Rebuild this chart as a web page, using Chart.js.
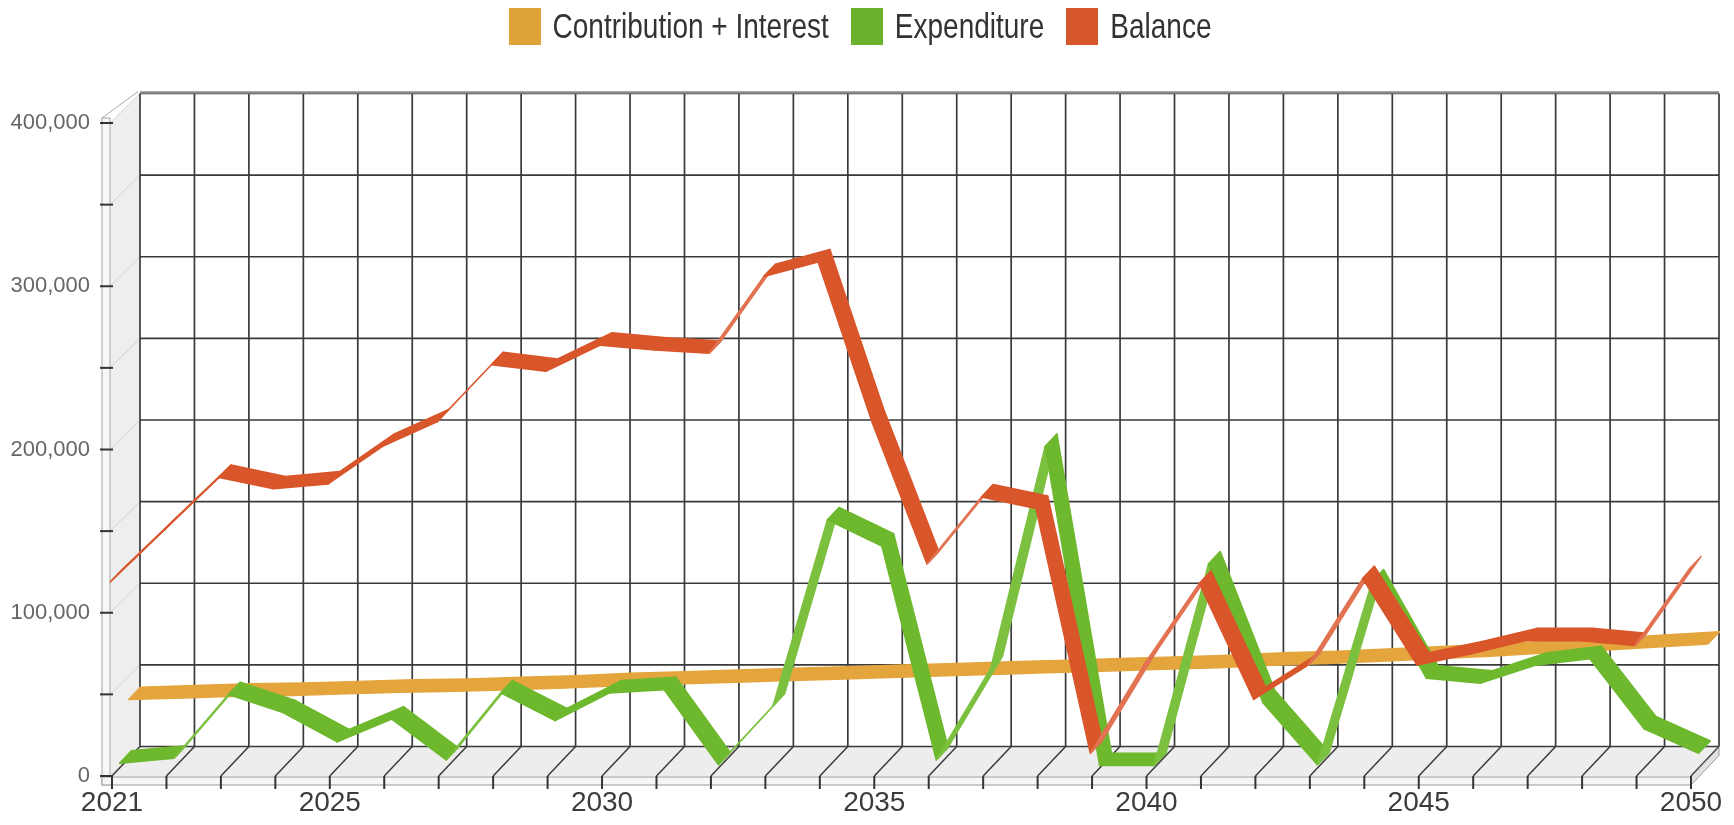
<!DOCTYPE html>
<html>
<head>
<meta charset="utf-8">
<script src="https://cdn.jsdelivr.net/npm/chart.js@4/dist/chart.umd.min.js"></script>
<style>
  html, body { margin: 0; padding: 0; background: #fff; }
  #wrap { position: relative; width: 1734px; height: 825px; }
  #legend {
    position: absolute; top: 8px; left: -7px; width: 100%;
    display: flex; justify-content: center;
    font: 28px 'Liberation Sans', Arial, sans-serif;
    color: #333; line-height: 37px;
  }
  .lg-item { display: flex; align-items: center; margin: 0 11px; }
  .lg-box { width: 32px; height: 37px; margin-right: 12px; }
  .lg-text { display: inline-block; transform: scaleY(1.22); }
  canvas { position: absolute; left: 0; top: 0; }
</style>
</head>
<body>
<div id="wrap">
  <canvas id="fundChart" width="1734" height="825"></canvas>
  <div id="legend"></div>
</div>
<script>
'use strict'
//
;(function () {
  const years = [
    '2021', '2022', '2023', '2024', '2025', '2026', '2027', '2028', '2029', '2030',
    '2031', '2032', '2033', '2034', '2035', '2036', '2037', '2038', '2039', '2040',
    '2041', '2042', '2043', '2044', '2045', '2046', '2047', '2048', '2049', '2050'
  ]
  const shownYears = ['2021', '2025', '2030', '2035', '2040', '2045', '2050']

  const contribution = [
    36000, 37000, 38000, 38500, 39500, 40500, 41000, 42000, 43000, 44500,
    45500, 46500, 47500, 48500, 49500, 50500, 51500, 52500, 53500, 54500,
    55500, 57000, 58000, 59500, 61000, 62500, 64500, 66000, 68000, 70000
  ]
  const expenditure = [
    3000, 6000, 45000, 34000, 16000, 30000, 5000, 46000, 29000, 46000,
    48000, 2000, 38000, 152000, 136000, 5000, 61000, 197000, 1500, 1500,
    125000, 40000, 2000, 114000, 55000, 52000, 63000, 67000, 24000, 9000
  ]
  const balance = [
    120000, 152000, 184000, 177000, 180000, 203000, 218000, 253000, 249000, 265000,
    262000, 260000, 307000, 316000, 217000, 131000, 172000, 165000, 15000, 70000,
    119000, 48000, 69000, 122000, 69000, 76000, 84000, 84000, 81000, 128000
  ]

  const yMax = 400000
  const yStep = 50000

  // front -> back shift of the 3d box
  const depthX = 28
  const depthY = -29.5
  // width of one line ribbon
  const ribbonX = 11.8
  const ribbonY = -12.4

  const series = [
    { label: 'Contribution + Interest', data: contribution, color: '#E4A53C', light: '#E9B45A', box: '#DFA238', depth: 0.81 },
    { label: 'Expenditure', data: expenditure, color: '#6DB82C', light: '#7CC040', box: '#6AB22E', depth: 0.48 },
    { label: 'Balance', data: balance, color: '#D9552A', light: '#E17352', box: '#D6562C', depth: 0.15 }
  ]

  const fontFamily = "'Liberation Sans', Arial, sans-serif"

  function line(ctx, x1, y1, x2, y2) {
    ctx.beginPath()
    ctx.moveTo(x1, y1)
    ctx.lineTo(x2, y2)
    ctx.stroke()
  }

  function poly(ctx, pts) {
    ctx.beginPath()
    pts.forEach(([px, py], i) => (i ? ctx.lineTo(px, py) : ctx.moveTo(px, py)))
    ctx.closePath()
  }

  const box3d = {
    id: 'box3d',
    beforeDatasetsDraw(chart) {
      const { ctx, chartArea, scales } = chart
      const { x, y } = scales
      const L = chartArea.left
      const R = chartArea.right
      const T = chartArea.top
      const B = chartArea.bottom

      ctx.save()
      // floor
      ctx.fillStyle = '#ededed'
      poly(ctx, [[L, B], [R, B], [R + depthX, B + depthY], [L + depthX, B + depthY]])
      ctx.fill()

      // left wall
      ctx.fillStyle = '#eeeeee'
      poly(ctx, [[L - 2, T], [L + depthX, T + depthY], [L + depthX, B + depthY], [L - 2, B]])
      ctx.fill()
      ctx.strokeStyle = '#d2d2d2'
      ctx.lineWidth = 1
      y.ticks.forEach((t) => {
        const py = y.getPixelForValue(t.value)
        line(ctx, L - 2, py, L + depthX, py + depthY)
      })

      // back wall grid
      ctx.strokeStyle = '#3a3a3a'
      ctx.lineWidth = 1.7
      y.ticks.forEach((t) => {
        const py = y.getPixelForValue(t.value) + depthY
        line(ctx, L + depthX, py, R + depthX, py)
      })
      years.forEach((_, i) => {
        const px = x.getPixelForValue(i) + depthX
        line(ctx, px, T + depthY, px, B + depthY)
      })
      ctx.strokeStyle = '#8a8a8a'
      ctx.lineWidth = 2.5
      line(ctx, L + depthX, T + depthY - 1, R + depthX, T + depthY - 1)

      // floor diagonals
      ctx.strokeStyle = '#3a3a3a'
      ctx.lineWidth = 1.5
      years.forEach((_, i) => {
        const px = x.getPixelForValue(i)
        line(ctx, px, B, px + depthX, B + depthY)
      })

      // y axis slab
      ctx.fillStyle = '#f7f7f7'
      ctx.strokeStyle = '#a8a8a8'
      ctx.lineWidth = 1
      ctx.fillRect(L - 10, T - 5, 8, B - T + 14)
      ctx.strokeRect(L - 10, T - 5, 8, B - T + 14)
      line(ctx, L - 10, T - 5, L + depthX - 2, T + depthY - 2)

      // floor slab
      ctx.fillStyle = '#f6f6f6'
      ctx.fillRect(L - 10, B + 1, R - L + 10, 8)
      ctx.strokeStyle = '#9a9a9a'
      ctx.strokeRect(L - 10, B + 1, R - L + 10, 8)
      ctx.fillStyle = '#e2e2e2'
      poly(ctx, [[R, B + 1], [R + depthX, B + 1 + depthY], [R + depthX, B + 9 + depthY], [R, B + 9]])
      ctx.fill()
      ctx.stroke()

      // tick marks
      ctx.strokeStyle = '#333'
      ctx.lineWidth = 2
      y.ticks.forEach((t) => {
        const py = y.getPixelForValue(t.value)
        line(ctx, L - 12, py, L + 1, py)
      })
      years.forEach((_, i) => {
        const px = x.getPixelForValue(i)
        line(ctx, px, B, px, B + 13)
      })
      ctx.restore()
    },
    afterDatasetsDraw(chart) {
      const { ctx } = chart
      ctx.save()
      ctx.lineJoin = 'round'
      ctx.lineWidth = 1.5
      chart.data.datasets.forEach((ds, d) => {
        const pts = chart.getDatasetMeta(d).data
        const ox = depthX * ds.depth - ribbonX / 2
        const oy = depthY * ds.depth - ribbonY / 2
        for (let i = 0; i < pts.length - 1; i++) {
          const ax = pts[i].x + ox
          const ay = pts[i].y + oy
          const bx = pts[i + 1].x + ox
          const by = pts[i + 1].y + oy
          // underside of the ribbon shows a bit lighter
          const cross = (bx - ax) * ribbonY - (by - ay) * ribbonX
          const col = cross <= 0 ? ds.borderColor : ds.lightColor
          ctx.fillStyle = col
          ctx.strokeStyle = col
          poly(ctx, [
            [ax, ay],
            [bx, by],
            [bx + ribbonX, by + ribbonY],
            [ax + ribbonX, ay + ribbonY]
          ])
          ctx.fill()
          ctx.stroke()
        }
      })
      ctx.restore()
    }
  }

  // html legend
  const legendEl = document.getElementById('legend')
  series.forEach((s) => {
    const item = document.createElement('div')
    item.className = 'lg-item'
    const box = document.createElement('span')
    box.className = 'lg-box'
    box.style.background = s.box
    const txt = document.createElement('span')
    txt.className = 'lg-text'
    txt.textContent = s.label
    item.appendChild(box)
    item.appendChild(txt)
    legendEl.appendChild(item)
  })

  window.fundChart = new Chart(document.getElementById('fundChart'), {
    type: 'line',
    data: {
      labels: years,
      datasets: series.map((s) => ({
        label: s.label,
        data: s.data,
        borderColor: s.color,
        backgroundColor: s.color,
        lightColor: s.light,
        depth: s.depth,
        showLine: false,
        pointRadius: 0,
        pointHoverRadius: 0
      }))
    },
    options: {
      responsive: false,
      animation: false,
      layout: {
        padding: { top: 123, right: 43, bottom: 0, left: 0 }
      },
      scales: {
        x: {
          offset: false,
          grid: { display: false, drawTicks: false },
          border: { display: false },
          ticks: {
            autoSkip: false,
            maxRotation: 0,
            minRotation: 0,
            padding: 10,
            color: '#3c3c3c',
            font: { family: fontFamily, size: 28 },
            callback(val, i) {
              return shownYears.includes(years[i]) ? years[i] : ''
            }
          },
          afterFit(scale) {
            scale.height = 49
          }
        },
        y: {
          min: 0,
          max: yMax,
          grid: { display: false, drawTicks: false },
          border: { display: false },
          ticks: {
            stepSize: yStep,
            padding: 22,
            color: '#666',
            font: { family: fontFamily, size: 22 },
            callback(val) {
              return val % 100000 === 0 ? val.toLocaleString('en-US') : ''
            }
          },
          afterFit(scale) {
            scale.width = 112
          }
        }
      },
      plugins: {
        legend: { display: false },
        tooltip: { enabled: false }
      }
    },
    plugins: [box3d]
  })
})()
</script>
</body>
</html>
